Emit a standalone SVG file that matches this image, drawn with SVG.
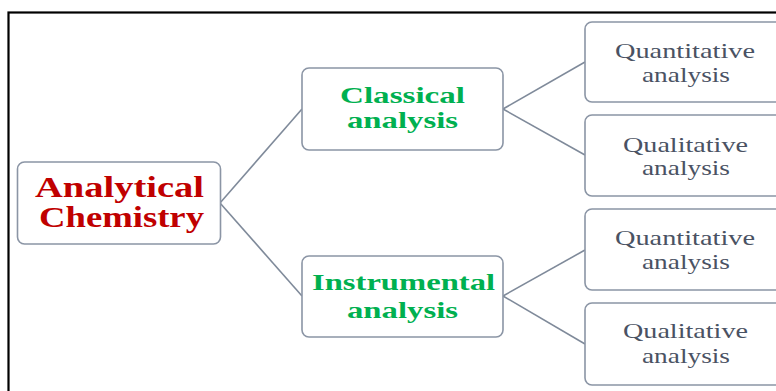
<svg xmlns="http://www.w3.org/2000/svg" width="776" height="391" viewBox="0 0 776 391">
<style>
.box{fill:#fff;stroke:#8b95a5;stroke-width:1.6}
.conn line{stroke:#7f8a9a;stroke-width:1.6}
.root{font-family:"Liberation Serif",serif;font-weight:bold;font-size:29px;fill:#c00000}
.mid{font-family:"Liberation Serif",serif;font-weight:bold;font-size:24px;fill:#00b050}
.leaf{font-family:"Liberation Serif",serif;font-size:22px;fill:#4a5263}
</style>
<rect x="0" y="0" width="776" height="391" fill="#fff"/>
<rect x="8.5" y="12.5" width="800" height="400" fill="none" stroke="#000" stroke-width="2.2"/>
<g id="connectors" class="conn">
<line x1="220" y1="203" x2="302" y2="109"/>
<line x1="220" y1="203" x2="302" y2="296"/>
<line x1="503" y1="109" x2="585" y2="62"/>
<line x1="503" y1="109" x2="585" y2="155"/>
<line x1="503" y1="296" x2="585" y2="250"/>
<line x1="503" y1="296" x2="585" y2="344"/>
</g>
<g id="root">
<rect class="box" x="17.5" y="162" width="203" height="82" rx="7"/>
<text class="root" x="35" y="197" textLength="169" lengthAdjust="spacingAndGlyphs">Analytical</text>
<text class="root" x="39" y="227" textLength="165" lengthAdjust="spacingAndGlyphs">Chemistry</text>
</g>
<g id="classical">
<rect class="box" x="302" y="68" width="201" height="82" rx="7"/>
<text class="mid" x="340" y="103" textLength="125" lengthAdjust="spacingAndGlyphs">Classical</text>
<text class="mid" x="347" y="128" textLength="111" lengthAdjust="spacingAndGlyphs">analysis</text>
</g>
<g id="instrumental">
<rect class="box" x="302" y="256" width="201" height="81" rx="7"/>
<text class="mid" x="312" y="290" textLength="183" lengthAdjust="spacingAndGlyphs">Instrumental</text>
<text class="mid" x="347" y="318" textLength="111" lengthAdjust="spacingAndGlyphs">analysis</text>
</g>
<g id="quant1">
<rect class="box" x="585" y="22" width="210" height="80" rx="7"/>
<text class="leaf" x="615" y="58" textLength="140" lengthAdjust="spacingAndGlyphs">Quantitative</text>
<text class="leaf" x="642" y="82" textLength="88" lengthAdjust="spacingAndGlyphs">analysis</text>
</g>
<g id="qual1">
<rect class="box" x="585" y="115" width="210" height="81" rx="7"/>
<text class="leaf" x="623" y="152" textLength="125" lengthAdjust="spacingAndGlyphs">Qualitative</text>
<text class="leaf" x="642" y="175" textLength="88" lengthAdjust="spacingAndGlyphs">analysis</text>
</g>
<g id="quant2">
<rect class="box" x="585" y="209" width="210" height="81" rx="7"/>
<text class="leaf" x="615" y="245" textLength="140" lengthAdjust="spacingAndGlyphs">Quantitative</text>
<text class="leaf" x="642" y="269" textLength="88" lengthAdjust="spacingAndGlyphs">analysis</text>
</g>
<g id="qual2">
<rect class="box" x="585" y="303" width="210" height="82" rx="7"/>
<text class="leaf" x="623" y="338" textLength="125" lengthAdjust="spacingAndGlyphs">Qualitative</text>
<text class="leaf" x="642" y="363" textLength="88" lengthAdjust="spacingAndGlyphs">analysis</text>
</g>
</svg>
